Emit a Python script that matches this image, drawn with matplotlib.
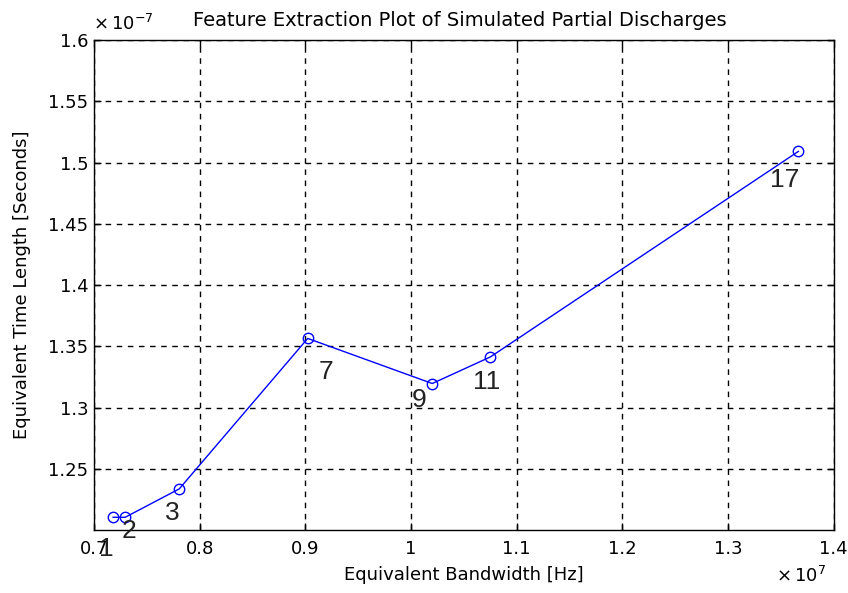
import matplotlib
matplotlib.use('Agg')
import matplotlib.pyplot as plt
import numpy as np

# bandwidth in units of 1e7 Hz, time length in units of 1e-7 s
bandwidth = [0.718, 0.7294, 0.7806, 0.9022, 1.0201, 1.0751, 1.3667]
timelength = [1.2104, 1.2104, 1.2336, 1.3564, 1.3196, 1.3413, 1.5091]
labels = ['1', '2', '3', '7', '9', '11', '17']
# where each number label sits
label_x = [0.712, 0.7332, 0.7739, 0.9196, 1.008, 1.0713, 1.3536]
label_y = [1.1848, 1.1994, 1.2142, 1.329, 1.306, 1.3209, 1.486]

xticks = [0.7, 0.8, 0.9, 1.0, 1.1, 1.2, 1.3, 1.4]
xticklabels = ['0.7', '0.8', '0.9', '1', '1.1', '1.2', '1.3', '1.4']
yticks = [1.25, 1.3, 1.35, 1.4, 1.45, 1.5, 1.55, 1.6]
yticklabels = ['1.25', '1.3', '1.35', '1.4', '1.45', '1.5', '1.55', '1.6']

plt.rcParams['font.family'] = ['DejaVu Sans']

fig = plt.figure(figsize=(8.48, 5.93), dpi=100)
ax = fig.add_axes([0.111, 0.1062, 0.872, 0.8263])

ax.plot(bandwidth, timelength, color='#0000ff', lw=1.0, marker='o',
        markersize=7.5, markerfacecolor='none', markeredgecolor='#0000ff',
        markeredgewidth=1.0)

#point numbers, drawn in a helvetica-like face
for lx, ly, t in zip(label_x, label_y, labels):
    ax.text(lx, ly, t, fontsize=19, ha='center', va='center',
            color='#222222', family='Liberation Sans', clip_on=False)

ax.set_xlim(0.7, 1.4)
ax.set_ylim(1.2, 1.6)
ax.set_xticks(xticks)
ax.set_xticklabels(xticklabels)
ax.set_yticks(yticks)
ax.set_yticklabels(yticklabels)
ax.tick_params(direction='in', top=True, right=True, length=5,
               labelsize=13, width=1)
ax.tick_params(axis='x', pad=7)
ax.tick_params(axis='y', pad=4)

ax.grid(True, color='black', linestyle=(0, (4, 4)), linewidth=1.0)
for s in ax.spines.values():
    s.set_linewidth(1.0)

ax.set_xlabel('Equivalent Bandwidth [Hz]', fontsize=13)
ax.xaxis.set_label_coords(0.5, -0.073)
ax.set_ylabel('Equivalent Time Length [Seconds]', fontsize=13)
#label anchor is its right edge once rotated
ax.yaxis.set_label_coords(-0.086, 0.5)

fig.text(0.5425, 1 - 20 / 593.,
         'Feature Extraction Plot of Simulated Partial Discharges',
         fontsize=14, ha='center', va='center')

# MATLAB style exponent labels
fig.text(93 / 848., 1 - 24 / 593., r'$\times\,10^{-7}$', fontsize=13,
         ha='left', va='center')
fig.text(776 / 848., 1 - 576 / 593., r'$\times\,10^{7}$', fontsize=13,
         ha='left', va='center')

fig.savefig('out.png', dpi=100)
